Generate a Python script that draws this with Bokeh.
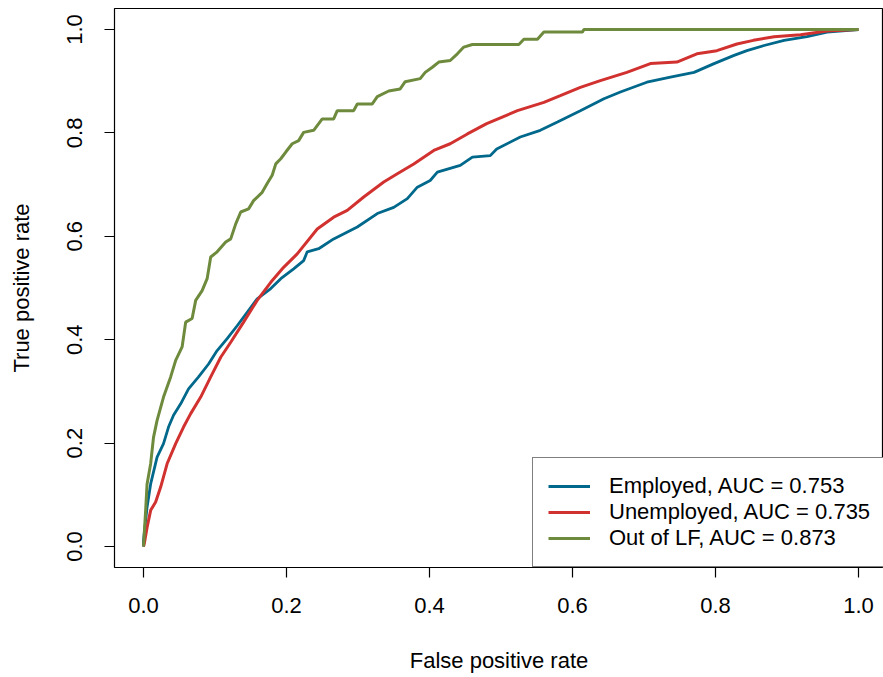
from bokeh.plotting import figure
from bokeh.models import Range1d, Legend, LegendItem, FixedTicker, NumeralTickFormatter
from bokeh.embed import file_html
from bokeh.resources import INLINE

# ROC curves
emp_fpr = [0.0, 0.0, 0.005, 0.010, 0.019, 0.028, 0.035, 0.042, 0.052, 0.063, 0.077, 0.091, 0.103,
           0.117, 0.131, 0.145, 0.159, 0.178, 0.192, 0.210, 0.224, 0.229, 0.245, 0.266, 0.299,
           0.327, 0.350, 0.369, 0.383, 0.401, 0.411, 0.443, 0.460, 0.485, 0.494, 0.527, 0.555,
           0.579, 0.611, 0.644, 0.667, 0.704, 0.737, 0.770, 0.798, 0.826, 0.844, 0.868, 0.896,
           0.928, 0.956, 1.0]
emp_tpr = [0.0, 0.012, 0.076, 0.121, 0.173, 0.199, 0.231, 0.254, 0.276, 0.305, 0.328, 0.353, 0.379,
           0.402, 0.427, 0.453, 0.479, 0.499, 0.518, 0.537, 0.553, 0.570, 0.576, 0.595, 0.618,
           0.644, 0.656, 0.673, 0.695, 0.708, 0.724, 0.737, 0.753, 0.756, 0.769, 0.792, 0.805,
           0.821, 0.843, 0.866, 0.879, 0.898, 0.908, 0.917, 0.934, 0.950, 0.959, 0.969, 0.979,
           0.986, 0.995, 1.0]

unemp_fpr = [0.0, 0.001, 0.005, 0.010, 0.017, 0.024, 0.033, 0.045, 0.056, 0.066, 0.080, 0.094,
             0.108, 0.122, 0.140, 0.159, 0.178, 0.196, 0.215, 0.243, 0.266, 0.285, 0.308, 0.336,
             0.355, 0.378, 0.406, 0.429, 0.453, 0.480, 0.523, 0.560, 0.583, 0.611, 0.639, 0.676,
             0.709, 0.746, 0.774, 0.802, 0.830, 0.853, 0.882, 0.919, 0.956, 1.0]
unemp_tpr = [0.0, 0.005, 0.037, 0.070, 0.086, 0.115, 0.160, 0.199, 0.231, 0.257, 0.289, 0.328,
             0.366, 0.395, 0.434, 0.476, 0.511, 0.540, 0.566, 0.614, 0.637, 0.650, 0.676, 0.705,
             0.721, 0.740, 0.766, 0.779, 0.798, 0.818, 0.843, 0.859, 0.872, 0.888, 0.901, 0.917,
             0.934, 0.937, 0.953, 0.959, 0.972, 0.979, 0.986, 0.990, 0.997, 1.0]

olf_fpr = [0.0, 0.003, 0.005, 0.010, 0.014, 0.019, 0.028, 0.038, 0.045, 0.054, 0.059, 0.068, 0.073,
           0.082, 0.089, 0.094, 0.103, 0.115, 0.122, 0.129, 0.136, 0.147, 0.154, 0.166, 0.173,
           0.180, 0.185, 0.192, 0.199, 0.208, 0.217, 0.224, 0.238, 0.250, 0.266, 0.271, 0.294,
           0.299, 0.320, 0.327, 0.343, 0.359, 0.366, 0.387, 0.394, 0.404, 0.413, 0.429, 0.439,
           0.448, 0.460, 0.525, 0.532, 0.551, 0.560, 0.614, 0.616, 1.0]
olf_tpr = [0.0, 0.070, 0.121, 0.160, 0.211, 0.244, 0.289, 0.328, 0.360, 0.386, 0.434, 0.441, 0.476,
           0.495, 0.518, 0.560, 0.570, 0.589, 0.595, 0.624, 0.647, 0.653, 0.669, 0.685, 0.702,
           0.718, 0.740, 0.750, 0.763, 0.779, 0.785, 0.801, 0.805, 0.827, 0.827, 0.843, 0.843,
           0.856, 0.856, 0.870, 0.881, 0.885, 0.899, 0.905, 0.917, 0.927, 0.937, 0.940, 0.953,
           0.966, 0.971, 0.971, 0.981, 0.981, 0.995, 0.995, 1.0, 1.0]

labels = ["Employed, AUC = 0.753", "Unemployed, AUC = 0.735", "Out of LF, AUC = 0.873"]
colors = ["#00688B", "#D1312F", "#6E8B3D"]
ticks = [0.0, 0.2, 0.4, 0.6, 0.8, 1.0]

FONT = "Liberation Sans"

p = figure(width=883, height=677, output_backend="svg", toolbar_location=None,
           x_range=Range1d(-0.04056, 1.0350), y_range=Range1d(-0.0406, 1.0406),
           min_border_left=114, min_border_right=0, min_border_top=8, min_border_bottom=110)

p.xgrid.visible = False
p.ygrid.visible = False
p.outline_line_color = "black"
p.outline_line_width = 1.2
p.outline_line_alpha = 1.0

for ax in (p.xaxis[0], p.yaxis[0]):
    ax.ticker = FixedTicker(ticks=ticks)
    ax.formatter = NumeralTickFormatter(format="0.0")
    ax.axis_line_color = None
    ax.major_tick_in = 0
    ax.major_tick_out = 10
    ax.major_tick_line_color = "black"
    ax.major_tick_line_width = 1.2
    ax.minor_tick_line_color = None
    ax.major_label_text_font = FONT
    ax.major_label_text_font_size = "22px"
    ax.major_label_text_color = "black"
    ax.axis_label_text_font = FONT
    ax.axis_label_text_font_size = "22px"
    ax.axis_label_text_font_style = "normal"
    ax.axis_label_text_color = "black"

p.xaxis.axis_label = "False positive rate"
p.yaxis.axis_label = "True positive rate"
p.xaxis.major_label_standoff = 20
p.xaxis.axis_label_standoff = 32
p.yaxis.major_label_standoff = 22
p.yaxis.axis_label_standoff = 31
p.yaxis.major_label_orientation = "vertical"

r1 = p.line(emp_fpr, emp_tpr, line_color=colors[0], line_width=2.8)
r2 = p.line(unemp_fpr, unemp_tpr, line_color=colors[1], line_width=3)
r3 = p.line(olf_fpr, olf_tpr, line_color=colors[2], line_width=3)

legend = Legend(items=[LegendItem(label=labels[0], renderers=[r1]),
                       LegendItem(label=labels[1], renderers=[r2]),
                       LegendItem(label=labels[2], renderers=[r3])],
                location=(418, 0))
legend.label_text_font = FONT
legend.label_text_font_size = "22px"
legend.label_text_color = "black"
legend.glyph_width = 42
legend.glyph_height = 26
legend.label_height = 26
legend.label_standoff = 19
legend.spacing = 0
legend.padding = 15
legend.margin = 0
legend.border_line_color = "black"
legend.border_line_width = 1.2
legend.background_fill_color = "white"
legend.background_fill_alpha = 1.0
p.add_layout(legend, "center")

open("out.html", "w").write(file_html(p, INLINE))
